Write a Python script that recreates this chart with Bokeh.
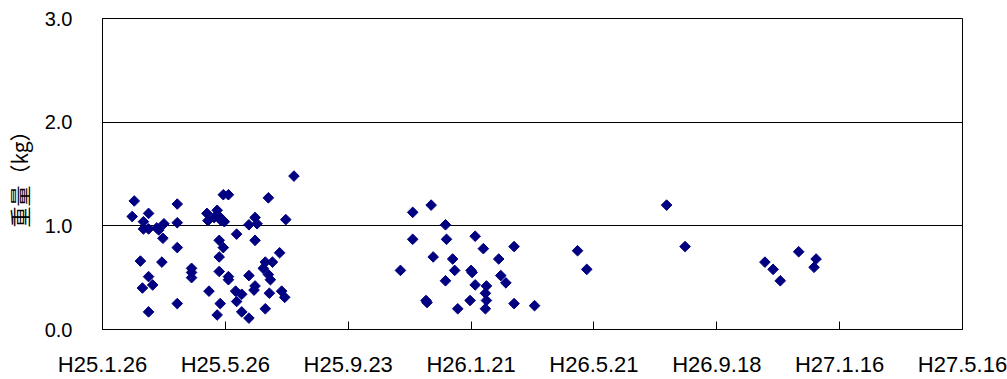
import math
from bokeh.plotting import figure
from bokeh.models import Range1d, FixedTicker, ColumnDataSource, NumeralTickFormatter
from bokeh.embed import file_html
from bokeh.resources import INLINE

# Days elapsed since H25.1.26 (2013-01-26)
days = [
    187, 118, 123, 31, 73, 162, 29, 45, 40, 40, 45, 53, 60, 55, 59, 73, 73, 37, 58,
    87, 87, 87, 45, 39, 49, 73, 45, 102, 103, 109, 112, 114, 116, 119, 131, 143, 149,
    151, 179, 114, 118, 114, 149, 173, 159, 166, 157, 162, 164, 114, 123, 123, 143,
    149, 148, 104, 130, 136, 131, 163, 175, 178, 115, 112, 136, 143, 159,
    303, 321, 335, 303, 336, 364, 372, 402, 323, 342, 387, 291, 344, 360, 361, 335,
    389, 394, 364, 375, 374, 375, 374, 316, 317, 347, 359, 402, 422,
    464, 473, 551, 569, 647, 655, 662, 680, 697, 695,
]
# Weight (kg)
weights = [
    1.48, 1.30, 1.30, 1.24, 1.21, 1.27, 1.09, 1.12, 1.04, 0.97, 0.97, 0.98, 1.02, 0.96, 0.88, 1.03, 0.79, 0.66, 0.65,
    0.59, 0.55, 0.50, 0.51, 0.40, 0.43, 0.25, 0.17, 1.12, 1.05, 1.08, 1.15, 1.09, 1.05, 1.04, 0.92, 1.01, 1.08,
    1.02, 1.06, 0.86, 0.79, 0.70, 0.86, 0.74, 0.65, 0.65, 0.59, 0.53, 0.48, 0.56, 0.51, 0.48, 0.52,
    0.42, 0.38, 0.37, 0.37, 0.34, 0.27, 0.35, 0.37, 0.31, 0.25, 0.14, 0.17, 0.11, 0.20,
    1.13, 1.20, 1.01, 0.87, 0.87, 0.90, 0.78, 0.80, 0.70, 0.68, 0.68, 0.57, 0.57, 0.57, 0.55, 0.47,
    0.52, 0.45, 0.43, 0.42, 0.35, 0.28, 0.20, 0.28, 0.26, 0.20, 0.28, 0.25, 0.23,
    0.76, 0.58, 1.20, 0.80, 0.65, 0.58, 0.47, 0.75, 0.68, 0.60,
]

x_tick_days = [0, 120, 240, 360, 480, 600, 720, 840]
x_tick_labels = ["H25.1.26", "H25.5.26", "H25.9.23", "H26.1.21", "H26.5.21", "H26.9.18", "H27.1.16", "H27.5.16"]
y_ticks = [0, 1, 2, 3]

src = ColumnDataSource(dict(x=days, y=weights))

p = figure(width=1007, height=379, output_backend="svg", toolbar_location=None,
           x_range=Range1d(0, 840), y_range=Range1d(0, 3),
           min_border_left=102, min_border_right=45, min_border_top=18, min_border_bottom=47)

p.scatter("x", "y", source=src, marker="square", size=7.5, angle=math.pi / 4,
          fill_color="#000080", line_color="#000080")

p.background_fill_color = "white"
p.border_fill_color = "white"
p.outline_line_color = "black"
p.outline_line_width = 1

p.xgrid.visible = False
p.ygrid.ticker = FixedTicker(ticks=y_ticks)
p.ygrid.grid_line_color = "black"
p.ygrid.grid_line_width = 1

xa = p.xaxis[0]
xa.ticker = FixedTicker(ticks=x_tick_days)
xa.major_label_overrides = {d: l for d, l in zip(x_tick_days, x_tick_labels)}
xa.major_tick_in = 8
xa.major_tick_out = 0
xa.minor_tick_line_color = None
xa.axis_line_color = "black"
xa.major_tick_line_color = "black"
xa.major_label_text_font = "Liberation Sans"
xa.major_label_text_font_size = "22px"
xa.major_label_text_color = "black"
xa.major_label_standoff = 22

ya = p.yaxis[0]
ya.ticker = FixedTicker(ticks=y_ticks)
ya.formatter = NumeralTickFormatter(format="0.0")
ya.major_tick_in = 8
ya.major_tick_out = 0
ya.minor_tick_line_color = None
ya.axis_line_color = "black"
ya.major_tick_line_color = "black"
ya.major_label_text_font = "Liberation Sans"
ya.major_label_text_font_size = "20px"
ya.major_label_text_color = "black"
ya.major_label_standoff = 30
ya.axis_label = "重量（kg）"
ya.axis_label_text_font = "Noto Sans CJK JP"
ya.axis_label_text_font_size = "21px"
ya.axis_label_text_font_style = "normal"
ya.axis_label_text_color = "black"
ya.axis_label_standoff = 8

open("out.html", "w").write(file_html(p, INLINE))
